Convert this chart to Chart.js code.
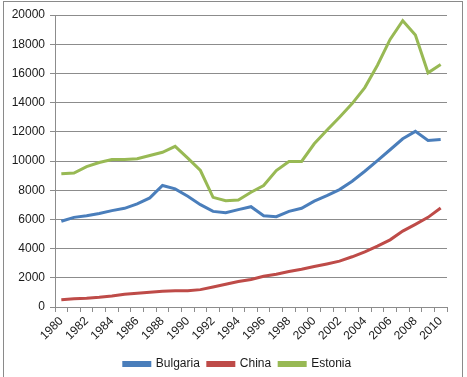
<!DOCTYPE html>
<html>
<head>
<meta charset="utf-8">
<script src="https://cdn.jsdelivr.net/npm/chart.js@4.4.0/dist/chart.umd.min.js"></script>
<style>
  html, body { margin: 0; padding: 0; background: #fff; overflow: hidden; }
  #wrap { position: relative; width: 467px; height: 377px; }
  #frame { position: absolute; left: 3px; top: 1px; width: 460px; height: 385px; border: 1px solid #8a8a8a; box-sizing: border-box; }
  canvas { position: absolute; left: 0; top: 0; }
</style>
</head>
<body>
<div id="wrap">
  <div id="frame"></div>
  <canvas id="chart" width="467" height="377"></canvas>
</div>
<script>
const years = [];
for (let y = 1980; y <= 2010; y++) {
  years.push(String(y));
}

const bulgaria = [5870, 6140, 6250, 6410, 6600, 6760, 7060, 7470, 8320, 8090,
  7580, 7010, 6550, 6460, 6670, 6870, 6250, 6190, 6550, 6760,
  7250, 7630, 8040, 8610, 9300, 10030, 10770, 11520, 12030, 11410, 11480];

const china = [500, 570, 600, 660, 750, 870, 940, 1010, 1080, 1120,
  1120, 1190, 1370, 1560, 1740, 1880, 2110, 2250, 2430, 2590,
  2770, 2950, 3140, 3440, 3780, 4170, 4600, 5200, 5660, 6140, 6780];

const estonia = [9120, 9180, 9620, 9900, 10100, 10100, 10150, 10380, 10600, 11000,
  10200, 9350, 7510, 7280, 7330, 7860, 8320, 9350, 9970, 9970,
  11180, 12100, 13000, 13930, 15030, 16560, 18330, 19610, 18630, 16040, 16610];

const seriesNames = ['Bulgaria', 'China', 'Estonia'];
const seriesColors = ['#4a7ebb', '#be4b48', '#98b954'];

const gridColor = '#8c8c8c';
const textColor = '#1a1a1a';

function makeDataset(i, values) {
  return {
    label: seriesNames[i],
    data: values,
    borderColor: seriesColors[i],
    backgroundColor: seriesColors[i],
    borderWidth: 3,
    pointRadius: 0,
    tension: 0
  };
}

// nudge the legend a bit to the right, like the original
const legendShift = {
  id: 'legendShift',
  afterLayout(chart) {
    if (chart.legend) {
      chart.legend.left += 14;
      chart.legend.right += 14;
    }
  }
};

new Chart(document.getElementById('chart').getContext('2d'), {
  type: 'line',
  data: {
    labels: years,
    datasets: [
      makeDataset(0, bulgaria),
      makeDataset(1, china),
      makeDataset(2, estonia)
    ]
  },
  plugins: [legendShift],
  options: {
    responsive: false,
    animation: false,
    layout: {
      padding: { top: 15, right: 20, left: 0, bottom: -3 }
    },
    scales: {
      x: {
        offset: true,
        grid: {
          offset: true,
          drawOnChartArea: false,
          drawTicks: true,
          tickLength: 5,
          color: gridColor
        },
        border: { color: gridColor },
        ticks: {
          autoSkip: false,
          maxRotation: 45,
          minRotation: 45,
          padding: 2,
          color: textColor,
          font: { family: 'Liberation Sans', size: 12 },
          callback: function (value, index) {
            return index % 2 === 0 ? this.getLabelForValue(value) : '';
          }
        },
        afterFit: function (scale) {
          scale.height = 43;
        }
      },
      y: {
        min: 0,
        max: 20000,
        grid: {
          color: gridColor,
          tickLength: 5
        },
        border: { color: gridColor },
        ticks: {
          stepSize: 2000,
          padding: 5,
          color: textColor,
          font: { family: 'Liberation Sans', size: 12 },
          callback: value => String(value)
        },
        afterFit: function (scale) {
          scale.width = 55;
        }
      }
    },
    plugins: {
      legend: {
        position: 'bottom',
        labels: {
          boxWidth: 26,
          boxHeight: 3,
          padding: 8,
          color: textColor,
          font: { family: 'Liberation Sans', size: 12 }
        }
      },
      tooltip: { enabled: false }
    }
  }
});
</script>
</body>
</html>
